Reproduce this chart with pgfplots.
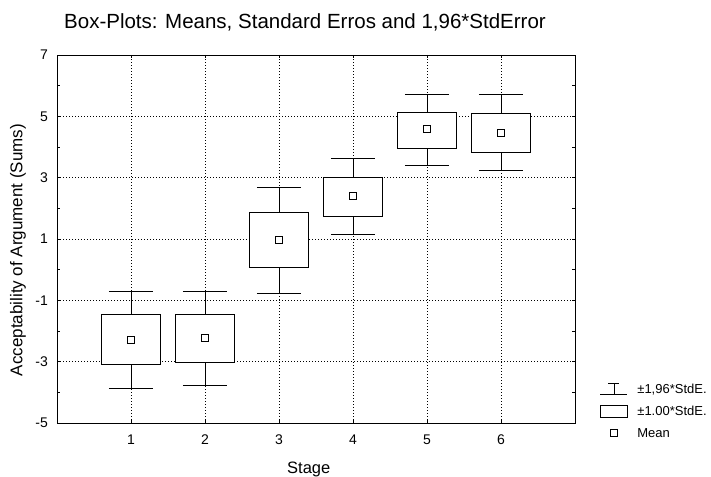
\documentclass[border=0pt]{standalone}
\usepackage{fontspec}
\setmainfont{Liberation Sans}
\usepackage{pgfplots}
\pgfplotsset{compat=1.18}
\usepgfplotslibrary{statistics}

\begin{document}
\begin{tikzpicture}
\useasboundingbox (0pt,0pt) rectangle (711pt,476pt);
\begin{axis}[
    at={(57pt,53pt)}, anchor=south west,
    scale only axis, width=518pt, height=368pt,
    xmin=0, xmax=7, ymin=-5, ymax=7,
    xtick={1,2,3,4,5,6}, xticklabels={1,2,3,4,5,6},
    ytick={-5,-3,-1,1,3,5,7}, yticklabels={-5,-3,-1,1,3,5,7},
    minor ytick={-4,-2,0,2,4,6},
    tick align=inside,
    major tick length=3pt, minor tick length=3pt,
    tick style={black, line width=0.6pt},
    axis line style={black, line width=0.9pt},
    grid=major,
    major grid style={black, line width=0.6pt, dash pattern=on 1pt off 2pt},
    xticklabel style={font=\fontsize{14pt}{16pt}\selectfont, inner sep=0pt,
        anchor=base, yshift=-22pt},
    yticklabel style={font=\fontsize{14pt}{16pt}\selectfont, inner sep=0pt,
        anchor=east, xshift=-9pt},
    title={Box-Plots: Means, Standard Erros and 1,96*StdError},
    title style={at={(axis description cs:0.4788,1)}, anchor=base, yshift=20pt,
        inner sep=0pt, font=\fontsize{20.5pt}{24pt}\selectfont},
    xlabel={Stage},
    xlabel style={at={(axis description cs:0.486,0)}, anchor=base, yshift=-50pt,
        inner sep=0pt, font=\fontsize{16.5pt}{20pt}\selectfont},
    ylabel={Acceptability of Argument (Sums)},
    ylabel style={at={(axis description cs:-0.0753,0.47)}, anchor=center,
        inner sep=0pt, font=\fontsize{17pt}{20pt}\selectfont},
    boxplot/draw direction=y,
    boxplot/box extend=0.8,
    boxplot/whisker extend=0.6,
    boxplot/every box/.style={draw=black, fill=white, line width=0.8pt},
    boxplot/every whisker/.style={black, line width=0.8pt},
    boxplot/every median/.style={black, line width=0.8pt},
    legend style={at={(axis description cs:1.048,0.111)}, anchor=north west,
        draw=none, fill=none, inner sep=0pt, row sep=8pt,
        font=\fontsize{13pt}{15pt}\selectfont,
        nodes={inner sep=0pt},
        /tikz/every odd column/.append style={column sep=9.5pt}},
    legend cell align=left,
]
% stage: lower whisker, lower box, upper box, upper whisker
\addplot[forget plot, boxplot prepared={draw position=1,
    lower whisker=-3.86, lower quartile=-3.09, median=-3.09,
    upper quartile=-1.47, upper whisker=-0.70}] coordinates {};
\addplot[forget plot, boxplot prepared={draw position=2,
    lower whisker=-3.79, lower quartile=-3.02, median=-3.02,
    upper quartile=-1.47, upper whisker=-0.72}] coordinates {};
\addplot[forget plot, boxplot prepared={draw position=3,
    lower whisker=-0.77, lower quartile=0.08, median=0.08,
    upper quartile=1.87, upper whisker=2.69}] coordinates {};
\addplot[forget plot, boxplot prepared={draw position=4,
    lower whisker=1.14, lower quartile=1.75, median=1.75,
    upper quartile=3.02, upper whisker=3.63}] coordinates {};
\addplot[forget plot, boxplot prepared={draw position=5,
    lower whisker=3.41, lower quartile=3.97, median=3.97,
    upper quartile=5.14, upper whisker=5.70}] coordinates {};
\addplot[forget plot, boxplot prepared={draw position=6,
    lower whisker=3.24, lower quartile=3.83, median=3.83,
    upper quartile=5.10, upper whisker=5.70}] coordinates {};

% means
\addplot[forget plot, only marks, mark=square*, mark size=3.5pt,
    mark options={draw=black, fill=white, line width=0.8pt}] coordinates {
    (1,-2.28) (2,-2.24) (3,0.96) (4,2.40) (5,4.58) (6,4.46)
};

\addlegendimage{legend image code/.code={
    \path[draw=none, fill=none] (0pt,-7pt) rectangle (27pt,7pt);
    \draw[black, line width=0.8pt] (0pt,-5pt) -- (27pt,-5pt)
        (13.5pt,-5pt) -- (13.5pt,6pt) (8pt,6pt) -- (19pt,6pt);}}
\addlegendentry{±1,96*StdE.}
\addlegendimage{legend image code/.code={
    \path[draw=none, fill=none] (0pt,-7pt) rectangle (27pt,7pt);
    \draw[black, fill=white, line width=0.8pt] (0pt,-6pt) rectangle (27pt,6pt);}}
\addlegendentry{±1.00*StdE.}
\addlegendimage{legend image code/.code={
    \path[draw=none, fill=none] (0pt,-7pt) rectangle (27pt,7pt);
    \draw[black, fill=white, line width=0.8pt] (10pt,-3.5pt) rectangle (17pt,3.5pt);}}
\addlegendentry{Mean}
\end{axis}
\end{tikzpicture}
\end{document}
